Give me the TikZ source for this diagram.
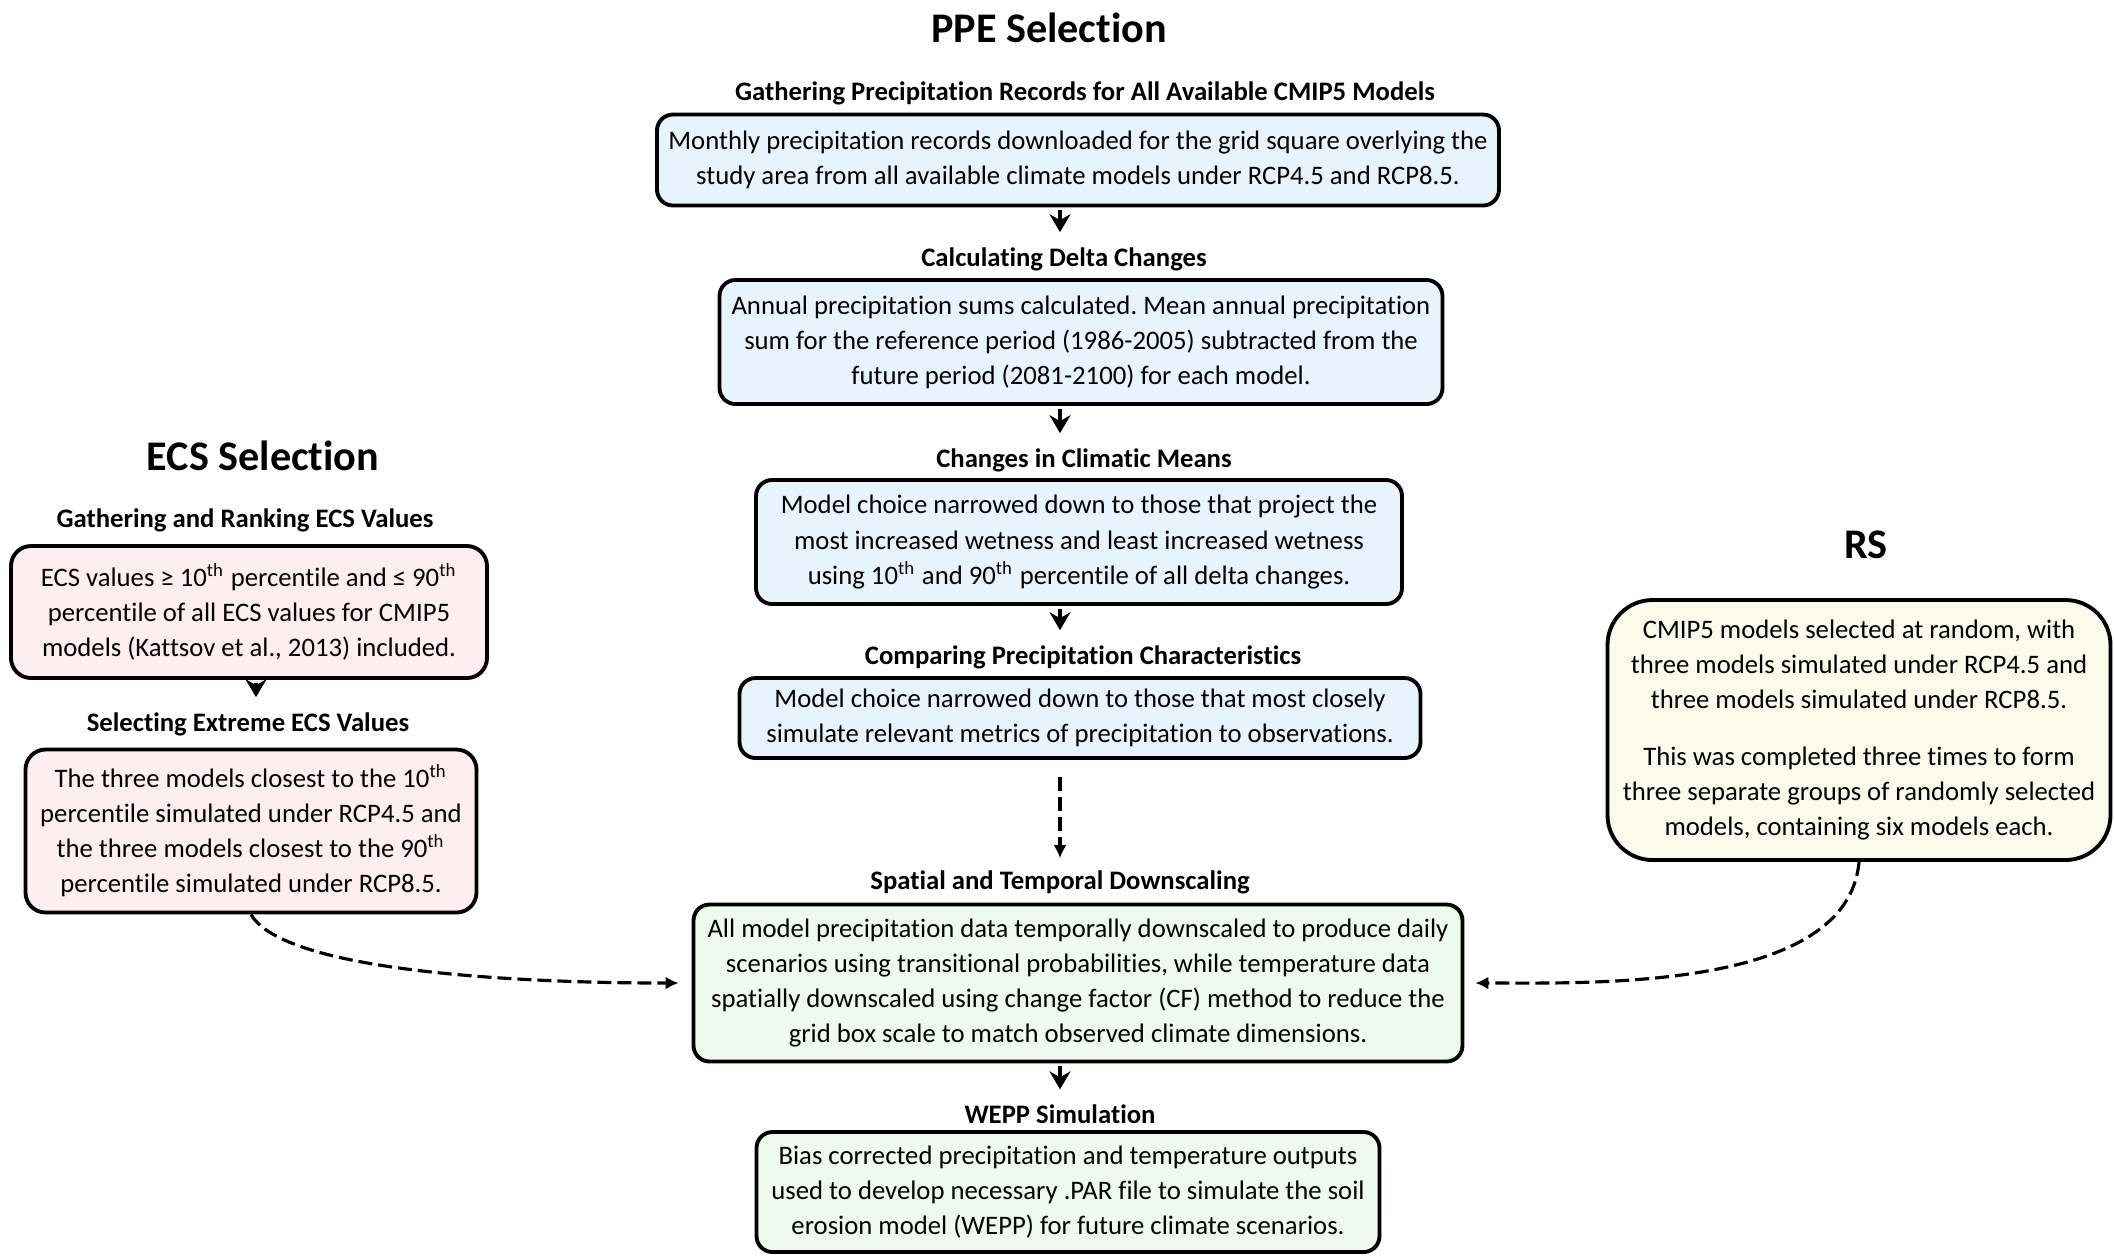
\documentclass[tikz,border=0pt]{standalone}
\usepackage{fontspec}
\setmainfont{Carlito}[Ligatures=NoCommon]
\usepackage{xcolor}
\usepackage{tikz}
\usetikzlibrary{arrows.meta,positioning,calc}
\frenchspacing

\definecolor{ppeblue}{HTML}{E8F4FC}
\definecolor{ecspink}{HTML}{FDEFEF}
\definecolor{dsgreen}{HTML}{EEFAEE}
\definecolor{rscream}{HTML}{FAFBEA}

\begin{document}
\begin{tikzpicture}[x=0.1mm,y=-0.1mm,
  box/.style={draw, line width=1.1pt, rounded corners=1.6mm, align=center, inner sep=0pt,
    font=\fontsize{7.6pt}{9.97pt}\selectfont},
  ppebox/.style={box, fill=ppeblue},
  ecsbox/.style={box, fill=ecspink, rounded corners=2mm},
  dsbox/.style={box, fill=dsgreen},
  rsbox/.style={box, fill=rscream, rounded corners=4.5mm},
  heading/.style={inner sep=1pt, font=\fontsize{7.6pt}{9pt}\selectfont\bfseries},
  title/.style={inner sep=1pt, font=\fontsize{12pt}{14pt}\selectfont\bfseries},
  flowarrow/.style={line width=1.3pt, -{Stealth[length=1.8mm,width=2.1mm,inset=0.6mm]}},
  linkarrow/.style={line width=0.9pt, dash pattern=on 1.4mm off 0.6mm, -{Latex[length=1.3mm,width=1.3mm]}}]
  \useasboundingbox (0,0) rectangle (2114,1256);

  % PPE selection column
  \node[title] (tppe) at (1049,28) {PPE Selection};
  \node[heading] (hgather) at (1085,93) {Gathering Precipitation Records for All Available CMIP5 Models};
  \node[ppebox, minimum width=84.2mm, minimum height=9.1mm] (g1) at (1078,160)
    {Monthly precipitation records downloaded for the grid square overlying the\\
     study area from all available climate models under RCP4.5 and RCP8.5.};
  \node[heading] (hdelta) at (1064,259) {Calculating Delta Changes};
  \node[ppebox, minimum width=72.3mm, minimum height=12.4mm] (g2) at (1081,342)
    {Annual precipitation sums calculated. Mean annual precipitation\\
     sum for the reference period (1986-2005) subtracted from the\\
     future period (2081-2100) for each model.};
  \node[heading] (hmeans) at (1084,460) {Changes in Climatic Means};
  \node[ppebox, minimum width=64.6mm, minimum height=12.4mm] (g3) at (1079,542)
    {Model choice narrowed down to those that project the\\
     most increased wetness and least increased wetness\\
     using 10\textsuperscript{th} and 90\textsuperscript{th} percentile of all delta changes.};
  \node[heading] (hcomp) at (1083,657) {Comparing Precipitation Characteristics};
  \node[ppebox, minimum width=68.1mm, minimum height=8mm] (g4) at (1080,718)
    {Model choice narrowed down to those that most closely\\
     simulate relevant metrics of precipitation to observations.};
  \node[heading] (hdown) at (1060,882) {Spatial and Temporal Downscaling};
  \node[dsbox, minimum width=76.9mm, minimum height=15.7mm] (g5) at (1078,983)
    {All model precipitation data temporally downscaled to produce daily\\
     scenarios using transitional probabilities, while temperature data\\
     spatially downscaled using change factor (CF) method to reduce the\\
     grid box scale to match observed climate dimensions.};
  \node[heading] (hwepp) at (1060,1114) {WEPP Simulation};
  \node[dsbox, minimum width=62.3mm, minimum height=12mm] (g6) at (1068,1192)
    {Bias corrected precipitation and temperature outputs\\
     used to develop necessary .PAR file to simulate the soil\\
     erosion model (WEPP) for future climate scenarios.};

  % ECS selection column
  \node[title] (tecs) at (263,456) {ECS Selection};
  \node[heading] (hrank) at (245,520) {Gathering and Ranking ECS Values};
  \node[ecsbox, minimum width=47.6mm, minimum height=13.2mm] (e1) at (249,612)
    {ECS values ≥ 10\textsuperscript{th} percentile and ≤ 90\textsuperscript{th}\\
     percentile of all ECS values for CMIP5\\
     models (Kattsov et al., 2013) included.};
  \node[heading] (hextreme) at (248,724) {Selecting Extreme ECS Values};
  \node[ecsbox, minimum width=45.1mm, minimum height=16.3mm] (e2) at (251,831)
    {The three models closest to the 10\textsuperscript{th}\\
     percentile simulated under RCP4.5 and\\
     the three models closest to the 90\textsuperscript{th}\\
     percentile simulated under RCP8.5.};

  % RS
  \node[title] (trs) at (1866,545) {RS};
  \node[rsbox, minimum width=50.3mm, minimum height=26mm] (rs) at (1859,730)
    {CMIP5 models selected at random, with\\
     three models simulated under RCP4.5 and\\
     three models simulated under RCP8.5.\\[6pt]
     This was completed three times to form\\
     three separate groups of randomly selected\\
     models, containing six models each.};

  % connectors
  \coordinate (spine) at (1060,0);
  \coordinate (ecsspine) at (256,0);
  \foreach \a/\b in {g1/hdelta, g2/hmeans, g3/hcomp}
    \draw[flowarrow, shorten <=0.3mm, shorten >=1.1mm] (\a.south -| spine) -- (\b.north -| spine);
  \draw[flowarrow, shorten <=0.3mm, shorten >=1.1mm] (g5.south -| hwepp) -- (hwepp.north);
  \draw[flowarrow, shorten <=0.3mm, shorten >=1.1mm] (e1.south -| ecsspine) -- (hextreme.north -| ecsspine);
  \draw[linkarrow, shorten <=1.7mm, shorten >=0.8mm] (g4.south -| spine) -- (hdown.north -| spine);
  \draw[linkarrow, shorten >=1.3mm] (e2.south) to[out=-60, in=180, looseness=0.45] (g5.west);
  \draw[linkarrow, shorten >=1.1mm] (rs.south) to[out=-95, in=0, looseness=0.8] (g5.east);
\end{tikzpicture}
\end{document}
